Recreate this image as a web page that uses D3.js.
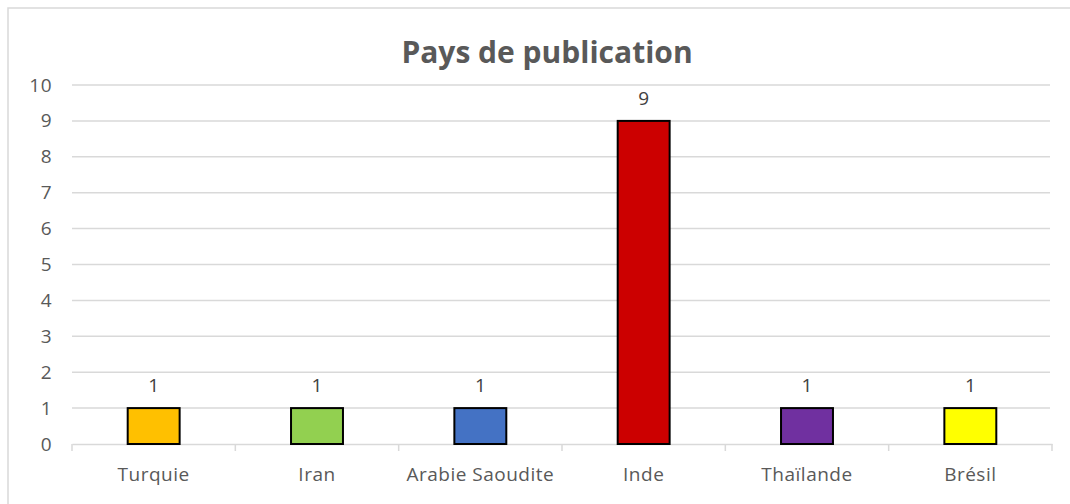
<!DOCTYPE html>
<html><head><meta charset="utf-8">
<script src="https://cdn.jsdelivr.net/npm/d3@7"></script>
<style>body{margin:0;background:#fff;}svg{display:block;font-family:"Open Sans",sans-serif;}</style>
</head><body>
<script>
const categories = ["Turquie","Iran","Arabie Saoudite","Inde","Thaïlande","Brésil"];
const values = [1,1,1,9,1,1];
const colors = ["#FFC000","#92D050","#4472C4","#CC0000","#7030A0","#FFFF00"];
const yTicks = [0,1,2,3,4,5,6,7,8,9,10];
const title = "Pays de publication";

const W=1070,H=504;
const FONT="'Open Sans',sans-serif";
const FS=19, LS="0.5px";
const svg=d3.select("body").append("svg").attr("width",W).attr("height",H);
svg.append("rect").attr("x",8).attr("y",8).attr("width",W).attr("height",H).attr("fill","#fff").attr("stroke","#d9d9d9").attr("stroke-width",1.5);

const x=d3.scaleBand().domain(categories).range([72,1052]).paddingInner(0.682).paddingOuter(0.341);
const y=d3.scaleLinear().domain([0,10]).range([444,85]);

svg.append("text").attr("x",547).attr("y",63).attr("text-anchor","middle").attr("font-size",30).attr("font-weight","bold").attr("fill","#595959").attr("font-family",FONT).text(title);

// gridlines
svg.append("g").selectAll("line").data(yTicks.filter(d=>d>0)).join("line")
 .attr("x1",72).attr("x2",1050).attr("y1",d=>y(d)).attr("y2",d=>y(d)).attr("stroke","#d9d9d9").attr("stroke-width",1.5);

// y axis labels
const ya=svg.append("g").attr("transform","translate(52,0)").call(d3.axisLeft(y).tickValues(yTicks).tickSize(0).tickPadding(0));
ya.select(".domain").remove();
ya.selectAll("text").attr("font-size",FS).attr("fill","#595959").attr("font-family",FONT).style("letter-spacing",LS);

// x axis
const xa=svg.append("g").attr("transform","translate(0,444)").call(d3.axisBottom(x).tickSize(0).tickPadding(24));
xa.select(".domain").attr("stroke","#d9d9d9").attr("stroke-width",1.5);
xa.selectAll("text").attr("font-size",FS).attr("fill","#595959").attr("font-family",FONT).style("letter-spacing",LS);
const bounds=d3.range(categories.length+1).map(i=>72+i*(980/categories.length));
svg.append("g").selectAll("line").data(bounds).join("line")
 .attr("x1",d=>d).attr("x2",d=>d).attr("y1",444).attr("y2",451).attr("stroke","#d9d9d9").attr("stroke-width",1.5);

// bars
svg.append("g").selectAll("rect").data(categories).join("rect")
 .attr("x",d=>x(d)).attr("width",x.bandwidth())
 .attr("y",(d,i)=>y(values[i])).attr("height",(d,i)=>y(0)-y(values[i]))
 .attr("fill",(d,i)=>colors[i]).attr("stroke","#000").attr("stroke-width",2);

// data labels
svg.append("g").selectAll("text").data(categories).join("text")
 .attr("x",d=>x(d)+x.bandwidth()/2).attr("y",(d,i)=>y(values[i])-16)
 .attr("text-anchor","middle").attr("font-size",FS).attr("fill","#404040").attr("font-family",FONT).text((d,i)=>values[i]);
</script>
</body></html>
